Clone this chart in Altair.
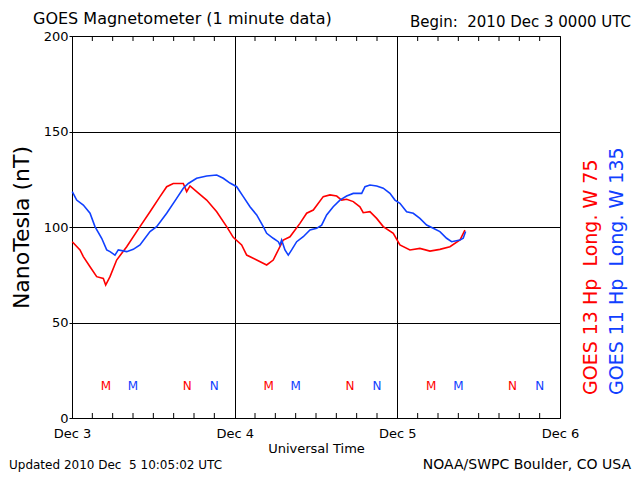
import altair as alt
import pandas as pd

# Hours since 2010 Dec 3 0000 UTC, and field values (nT)
g13_hours = [0.04, 1.18, 1.67, 2.66, 3.64, 4.62, 4.97, 5.61, 6.59, 8.07, 10.03, 11.51, 12.98,
             13.97, 14.94, 16.42, 16.92, 17.41, 18.39, 19.87, 21.35, 22.82, 23.79, 25.03,
             25.77, 27.25, 28.72, 29.69, 31.17, 32.16, 33.63, 34.62, 35.60, 37.07, 38.06,
             39.05, 39.78, 40.52, 41.50, 42.48, 42.97, 43.96, 44.95, 45.92, 47.40, 48.38,
             49.86, 51.33, 52.81, 54.28, 55.76, 57.24, 57.97]
g13_values = [92.3, 88.0, 84.5, 79.2, 74.0, 73.1, 69.6, 74.0, 82.7, 89.7, 100.2, 108.0, 115.9,
              121.1, 122.8, 122.8, 118.5, 121.5, 118.5, 114.1, 108.0, 100.2, 94.6, 90.6,
              85.3, 82.7, 80.1, 82.7, 93.2, 94.9, 101.9, 107.2, 108.9, 115.9, 116.8,
              116.2, 114.1, 114.5, 113.3, 110.6, 107.5, 108.0, 104.5, 100.2, 96.7, 90.6,
              88.0, 88.8, 87.4, 88.3, 89.7, 93.2, 98.4]

g11_hours = [0.04, 0.69, 1.67, 2.66, 3.39, 4.38, 5.12, 5.61, 6.34, 6.83, 8.07, 9.04, 10.03,
             11.51, 12.49, 13.97, 15.44, 16.42, 17.16, 18.39, 19.87, 21.35, 22.32, 23.31,
             24.30, 25.27, 26.26, 27.25, 28.22, 28.72, 29.69, 30.43, 30.68, 30.93, 31.42,
             31.91, 32.41, 33.15, 34.12, 35.11, 36.10, 36.83, 37.57, 38.54, 39.53, 40.52,
             41.50, 42.74, 43.23, 43.96, 44.95, 45.92, 46.91, 47.65, 48.38, 49.37, 50.35,
             51.33, 52.32, 53.30, 54.28, 55.27, 56.01, 57.24, 57.72, 58.07]
g11_values = [118.5, 114.1, 111.5, 107.2, 100.2, 94.1, 88.0, 87.1, 85.3, 88.0, 87.1, 88.3, 90.6,
              97.6, 100.2, 107.2, 115.0, 120.3, 122.8, 125.5, 126.7, 127.2, 125.5, 123.0,
              121.1, 115.9, 110.6, 106.3, 100.2, 96.7, 94.1, 92.3, 90.6, 93.2, 88.0,
              85.3, 88.0, 92.3, 94.9, 98.4, 99.3, 101.0, 106.3, 110.6, 114.1, 116.2,
              117.6, 117.6, 121.1, 122.0, 121.5, 120.3, 117.6, 114.1, 112.4, 108.0, 107.2,
              104.5, 101.0, 99.3, 97.6, 94.1, 92.3, 93.2, 94.1, 97.6]

series_names = ["GOES 13", "GOES 11"]
series_colors = ["#ff0000", "#1040ff"]

# Local midnight (M) / noon (N) markers
marker_hours = [5, 17, 29, 41, 53, 65, 9, 21, 33, 45, 57, 69]
marker_text = ["M", "N", "M", "N", "M", "N", "M", "N", "M", "N", "M", "N"]
marker_series = ["GOES 13"] * 6 + ["GOES 11"] * 6
marker_level = 17

minor_tick_hours = [h for h in range(3, 72, 3) if h % 24 != 0]
day_ticks = [0, 24, 48, 72]
y_ticks = [0, 50, 100, 150, 200]

W, H = 488, 382
FONT = "DejaVu Sans"

lines_df = pd.DataFrame({
    "h": g13_hours + g11_hours,
    "v": g13_values + g11_values,
    "s": ["GOES 13"] * len(g13_hours) + ["GOES 11"] * len(g11_hours),
})
markers_df = pd.DataFrame({"h": marker_hours, "t": marker_text, "s": marker_series,
                           "v": [marker_level] * len(marker_hours)})
ticks_df = pd.DataFrame({"h": minor_tick_hours})

color = alt.Color("s:N", scale=alt.Scale(domain=series_names, range=series_colors), legend=None)
xscale = alt.Scale(domain=[0, 72], nice=False, zero=False)
yscale = alt.Scale(domain=[0, 200], nice=False)

lines = alt.Chart(lines_df).mark_line(strokeWidth=1.6).encode(
    x=alt.X("h:Q", scale=xscale, axis=alt.Axis(
        values=day_ticks, labelExpr="'Dec ' + (3 + datum.value / 24)", grid=True,
        gridColor="black", gridOpacity=1, gridWidth=1, tickSize=0, domain=False,
        labelPadding=9, labelFontSize=13, labelFont=FONT, labelColor="black",
        title="Universal Time", titleFontSize=13, titleFont=FONT, titleFontWeight="normal",
        titleColor="black", titlePadding=2, labelFlush=False)),
    y=alt.Y("v:Q", scale=yscale, axis=alt.Axis(
        values=y_ticks, grid=True, gridColor="black", gridOpacity=1, gridWidth=1,
        tickSize=3, tickColor="black", domain=False, labelPadding=1, labelFontSize=13,
        labelFont=FONT, labelColor="black", title="NanoTesla (nT)", titleFontSize=22,
        titleFont=FONT, titleFontWeight="normal", titleColor="black", titlePadding=10)),
    color=color,
    detail="s:N",
)

top_ticks = alt.Chart(ticks_df).mark_rule(color="black", strokeWidth=1).encode(
    x=alt.X("h:Q", scale=xscale), y=alt.value(0), y2=alt.value(5))
bottom_ticks = alt.Chart(ticks_df).mark_rule(color="black", strokeWidth=1).encode(
    x=alt.X("h:Q", scale=xscale), y=alt.value(H - 5), y2=alt.value(H))

markers = alt.Chart(markers_df).mark_text(fontSize=12, font=FONT, baseline="middle").encode(
    x=alt.X("h:Q", scale=xscale), y=alt.Y("v:Q", scale=yscale), text="t:N", color=color)


def label(text, x, y, size=13, align="left", angle=0, col="black"):
    return alt.Chart(pd.DataFrame({"t": [text]})).mark_text(
        align=align, baseline="alphabetic", fontSize=size, font=FONT, angle=angle, color=col
    ).encode(text="t:N", x=alt.value(x), y=alt.value(y))


texts = [
    label("GOES Magnetometer (1 minute data)", -39, -12, size=16),
    label("Begin:\u00a0 2010 Dec 3 0000 UTC", 559, -9, size=15, align="right"),
    label("Updated 2010 Dec\u00a0 5 10:05:02 UTC", -63, 433, size=12),
    label("NOAA/SWPC Boulder, CO USA", 559, 433, size=14, align="right"),
    label("GOES 13 Hp\u00a0 Long. W 75", 525, 359, size=19, angle=270, col=series_colors[0]),
    label("GOES 11 Hp\u00a0 Long. W 135", 551, 359, size=19, angle=270, col=series_colors[1]),
]

chart = alt.layer(lines, top_ticks, bottom_ticks, markers, *texts).properties(
    width=W, height=H,
    autosize=alt.AutoSizeParams(type="none"),
    padding={"left": 64, "top": 28, "right": 72, "bottom": 54},
    background="white",
).configure_view(stroke="black", strokeWidth=1)

chart.save("out.html", embed_options={"renderer": "svg", "actions": False})
